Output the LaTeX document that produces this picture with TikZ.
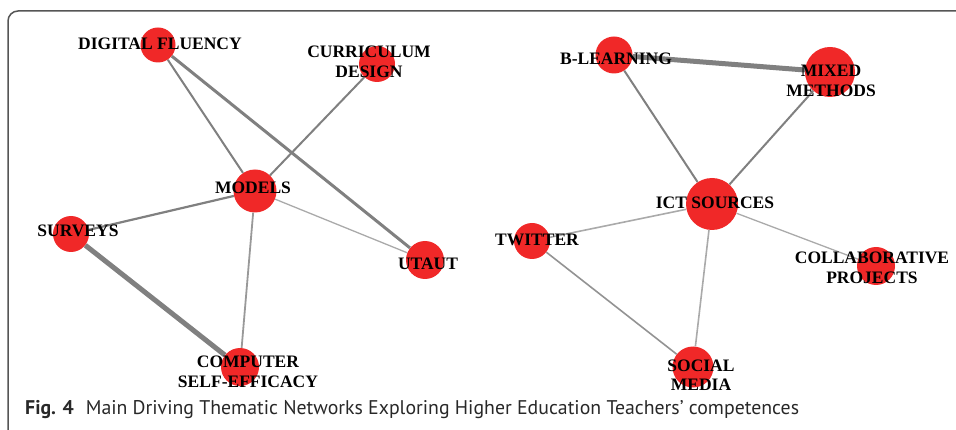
\documentclass[tikz,border=0pt]{standalone}
\usepackage{fontspec}
\setmainfont{Liberation Serif}
\newfontfamily\capfont{PT Sans}
\usepackage{xcolor}
\definecolor{nodered}{RGB}{240,40,40}
\definecolor{linkgray}{RGB}{128,128,128}
\definecolor{palegray}{RGB}{170,170,170}
\definecolor{framegray}{RGB}{85,85,85}
\definecolor{captext}{RGB}{40,40,40}

\begin{document}
\begin{tikzpicture}[x=1pt,y=-1pt,
  bubble/.style={circle,fill=nodered,inner sep=0pt},
  tag/.style={font=\bfseries\fontsize{17.5}{19.5}\selectfont,inner sep=0pt,align=center},
  link/.style={draw=linkgray,line width=2pt},
  heavy link/.style={link,line width=5pt},
  light link/.style={draw=palegray,line width=1.3pt}]
\useasboundingbox (0,0) rectangle (956,430);
\draw[framegray,line width=1.5pt,rounded corners=10pt] (956,11) -- (8,11) -- (8,430);

\node[bubble,minimum size=35pt] (fluency) at (158,45) {};
\node[bubble,minimum size=36pt] (design) at (377,64) {};
\node[bubble,minimum size=43pt] (models) at (255,191) {};
\node[bubble,minimum size=36pt] (surveys) at (71,234) {};
\node[bubble,minimum size=38pt] (utaut) at (425,260) {};
\node[bubble,minimum size=38pt] (efficacy) at (240,367) {};
\node[bubble,minimum size=37pt] (blearning) at (614,55) {};
\node[bubble,minimum size=50pt] (mixed) at (830,72) {};
\node[bubble,minimum size=52pt] (ict) at (712,204) {};
\node[bubble,minimum size=36pt] (twitter) at (532,241) {};
\node[bubble,minimum size=38pt] (collab) at (876,266) {};
\node[bubble,minimum size=41pt] (social) at (693,367) {};

\draw[link] (fluency) -- (models);
\draw[link,line width=3pt] (fluency) -- (utaut);
\draw[link] (design) -- (models);
\draw[link,line width=2.2pt] (models) -- (surveys);
\draw[light link] (models) -- (utaut);
\draw[link,draw=gray!80,line width=1.8pt] (models) -- (efficacy);
\draw[heavy link] (surveys) -- (efficacy);
\draw[heavy link] (blearning) -- (mixed);
\draw[link] (blearning) -- (ict);
\draw[link] (mixed) -- (ict);
\draw[light link,line width=1.6pt] (ict) -- (twitter);
\draw[light link] (ict) -- (collab);
\draw[light link,line width=1.6pt] (ict) -- (social);
\draw[link,draw=gray!85,line width=1.6pt] (twitter) -- (social);

\node[tag] (fluency-t) at (160,44) {DIGITAL FLUENCY};
\node[tag] (design-t) at (369,62) {CURRICULUM\\DESIGN};
\node[tag] (models-t) at (253,188) {MODELS};
\node[tag] (surveys-t) at (78,231) {SURVEYS};
\node[tag] (utaut-t) at (428,264) {UTAUT};
\node[tag] (efficacy-t) at (248,372) {COMPUTER\\SELF-EFFICACY};
\node[tag] (blearning-t) at (616,59) {B-LEARNING};
\node[tag] (mixed-t) at (831,81) {MIXED\\METHODS};
\node[tag] (ict-t) at (715,203) {ICT SOURCES};
\node[tag] (twitter-t) at (537,240) {TWITTER};
\node[tag] (collab-t) at (872,268) {COLLABORATIVE\\PROJECTS};
\node[tag] (social-t) at (701,375) {SOCIAL\\MEDIA};

\node[anchor=west,inner sep=0pt,text=captext,font=\capfont\fontsize{19.8}{24}\selectfont] (caption) at (25,410)
  {\textbf{Fig. 4}\hspace{0.6em}Main Driving Thematic Networks Exploring Higher Education Teachers’ competences};
\end{tikzpicture}
\end{document}
